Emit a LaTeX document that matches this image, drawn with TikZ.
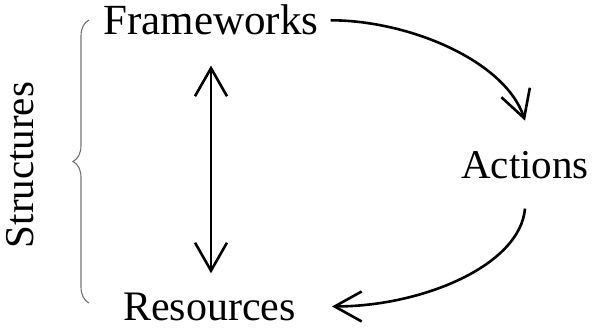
\documentclass[tikz,border=0pt]{standalone}
\usepackage{fontspec}
\setmainfont{Liberation Serif}
\usetikzlibrary{arrows.meta,decorations.pathreplacing}
\begin{document}
\begin{tikzpicture}[x=1pt,y=1pt,
  word/.style={font=\fontsize{42}{50}\selectfont, inner sep=0pt, anchor=base},
  flow/.style={line width=2.6pt, -{Straight Barb[length=27pt,width=30pt]}},
  both/.style={line width=2.6pt,
    {Straight Barb[length=28pt,width=32pt]}-{Straight Barb[length=28pt,width=32pt]}},
  bracket/.style={decorate, decoration={brace, amplitude=16pt},
    draw=black!55, line width=1.1pt}]
\useasboundingbox (0,0) rectangle (592,-329);

% the three terms of the cycle
\node[word, font=\fontsize{43}{50}\selectfont, inner xsep=12pt] (fw) at (211,-35) {Frameworks};
\node[word, font=\fontsize{41}{50}\selectfont, inner ysep=30pt] (ac) at (525,-178) {Actions};
\node[word, inner xsep=36pt] (rs) at (209.5,-320) {Resources};

% grouping label with its brace
\node[word, font=\fontsize{41}{50}\selectfont, rotate=90] (st) at (34,-165) {Structures};
\coordinate (bt) at (89,-303);
\coordinate (tp) at (89,-20);
\draw[bracket] (bt) -- (tp);

% connectors
\draw[flow] (fw.east) .. controls +(78,0) and +(-20,60) .. (ac.north);
\draw[flow] (ac.south) .. controls +(-5,-57) and +(90,0) .. (rs.east);
\draw[both, shorten <=30pt, shorten >=19pt] (fw.south) -- (fw.south |- rs.north);
\end{tikzpicture}
\end{document}
